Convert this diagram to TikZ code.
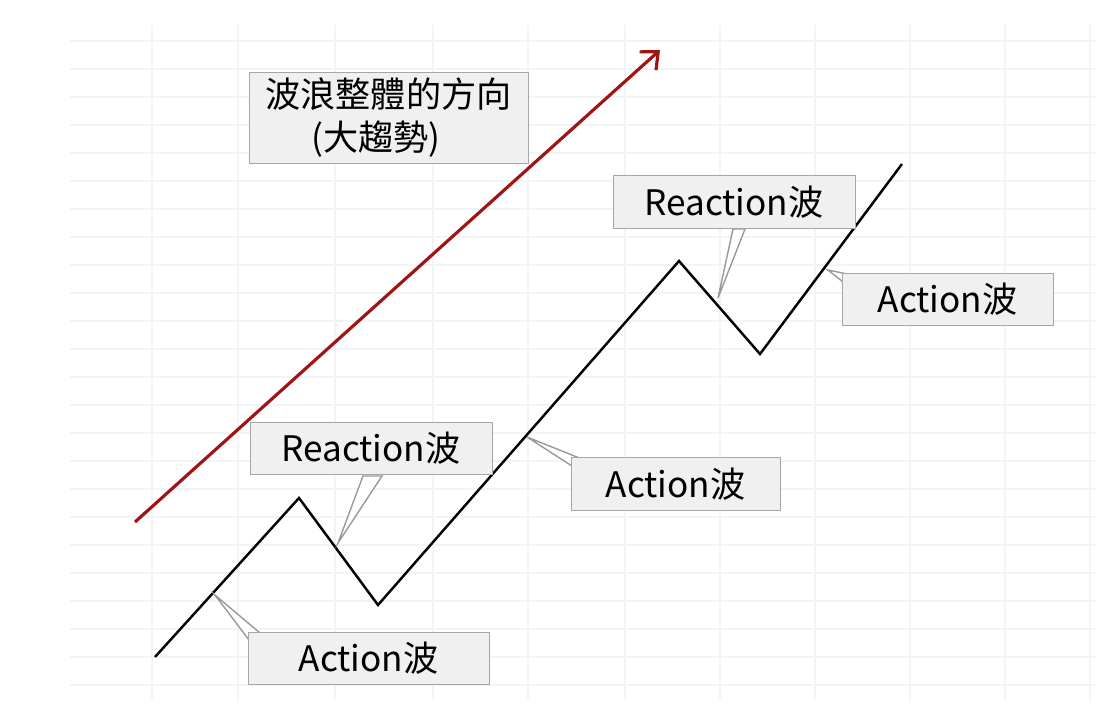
\documentclass[tikz,border=0pt]{standalone}
\usepackage{fontspec}
\setmainfont{Noto Sans CJK TC}
\usetikzlibrary{arrows.meta}
\begin{document}
\begin{tikzpicture}[x=0.02cm,y=-0.02cm]

		\definecolor{boxgray}{RGB}{240,240,240}
		\definecolor{gridgray}{RGB}{242,245,246}
		\definecolor{darkred}{RGB}{160,20,20}

		\tikzstyle{wave} = [draw,line width=1.4pt,line join=miter]
		\tikzset{callout/.style = {draw=gray!70,fill=boxgray,minimum height=1.05cm,font=\fontsize{20}{24}\selectfont,inner sep=0pt}}
		\tikzset{pointer/.style = {draw=gray!80,fill=white,line width=0.8pt}}

		\useasboundingbox (0,0) rectangle (1096,711);

		% grid
		\foreach \x in {152,238,335,433,528,625,720,815,910,1005,1090}
			\draw[gridgray,line width=0.8pt] (\x,25) -- (\x,700);
		\foreach \y in {41,69,...,685}
			\draw[gridgray,line width=0.8pt] (70,\y) -- (1096,\y);

		% trend arrow
		\coordinate (t0) at (135,522);
		\coordinate (t1) at (660,50);
		\draw[darkred,line width=1.8pt,-{Straight Barb[length=8pt,width=14pt]}] (t0) to (t1);

		% zigzag
		\coordinate (w0) at (155,657);
		\coordinate (w1) at (299,498);
		\coordinate (w2) at (378,605);
		\coordinate (w3) at (679,261);
		\coordinate (w4) at (760,354);
		\coordinate (w5) at (902,164);
		\draw[wave] (w0) -- (w1) -- (w2) -- (w3) -- (w4) -- (w5);

		% pointers
		\coordinate (p1) at (338,543);
		\coordinate (p2) at (215,595);
		\coordinate (p3) at (527,437);
		\coordinate (p4) at (718,298);
		\coordinate (p5) at (828,270);
		\draw[pointer] (p1) -- (363,476) -- (382,476) -- cycle;
		\draw[pointer] (p2) -- (249,640) -- (260,633) -- cycle;
		\draw[pointer] (p3) -- (572,466) -- (582,459) -- cycle;
		\draw[pointer] (p4) -- (733,229) -- (745,229) -- cycle;
		\draw[pointer] (p5) -- (843,282) -- (852,275) -- cycle;

		% boxes
		\node[callout,minimum width=5.58cm,minimum height=1.82cm,align=left] (trend) at (388.5,117.5)
			{波浪整體的方向\\\hspace{1.3em}(大趨勢)};
		\node[callout,minimum width=4.84cm] (react1) at (371,448.5) {Reaction波};
		\node[callout,minimum width=4.82cm] (act1) at (368.5,658.5) {Action波};
		\node[callout,minimum width=4.18cm] (act2) at (675.5,484) {Action波};
		\node[callout,minimum width=4.84cm] (react2) at (734,202) {Reaction波};
		\node[callout,minimum width=4.22cm] (act3) at (947.5,299.5) {Action波};

\end{tikzpicture}
\end{document}
